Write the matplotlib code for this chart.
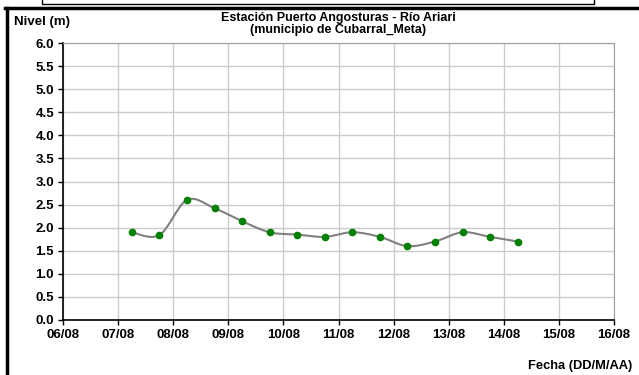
import numpy as np
import pandas as pd
import matplotlib
matplotlib.use("Agg")
import matplotlib.pyplot as plt
import matplotlib.dates as mdates
from matplotlib.lines import Line2D
from matplotlib.patches import Rectangle

plt.rcParams['font.family'] = ['Liberation Sans', 'DejaVu Sans']
plt.rcParams['font.weight'] = 'bold'

# lecturas (nivel del río, m)
fechas = ["2008-08-07 06:00", "2008-08-07 18:00", "2008-08-08 06:00", "2008-08-08 18:00",
          "2008-08-09 06:00", "2008-08-09 18:00", "2008-08-10 06:00", "2008-08-10 18:00",
          "2008-08-11 06:00", "2008-08-11 18:00", "2008-08-12 06:00", "2008-08-12 18:00",
          "2008-08-13 06:00", "2008-08-13 18:00", "2008-08-14 06:00"]
nivel = [1.9, 1.84, 2.6, 2.42, 2.14, 1.9, 1.85, 1.8, 1.9, 1.8, 1.6, 1.7, 1.9, 1.8, 1.7]

titulo = "Estación Puerto Angosturas - Río Ariari\n(municipio de Cubarral_Meta)"
y_ticks = np.arange(0, 6.01, 0.5)

x = mdates.date2num(pd.to_datetime(fechas))
y = np.array(nivel)


# smoothed line like excel (catmull-rom through the points)
def suave(px, py, n=20):
    px = np.concatenate([[px[0]], px, [px[-1]]])
    py = np.concatenate([[py[0]], py, [py[-1]]])
    xs, ys = [], []
    t = np.linspace(0, 1, n)
    for i in range(1, len(px) - 2):
        for arr, out in ((px, xs), (py, ys)):
            p0, p1, p2, p3 = arr[i - 1], arr[i], arr[i + 1], arr[i + 2]
            out.extend(0.5 * (2 * p1 + (-p0 + p2) * t + (2 * p0 - 5 * p1 + 4 * p2 - p3) * t ** 2
                              + (-p0 + 3 * p1 - 3 * p2 + p3) * t ** 3))
    return np.array(xs), np.array(ys)


fig = plt.figure(figsize=(6.39, 3.75), dpi=100)
ax = fig.add_axes([0.0986, 0.1467, 0.8624, 0.7386])

sx, sy = suave(x, y)
ax.plot(sx, sy, color='#808080', lw=1.5, zorder=3)
ax.plot(x, y, 'o', color='#008000', ms=4.5, zorder=4)

x0 = mdates.date2num(pd.Timestamp("2008-08-06"))
ax.set_xlim(x0, x0 + 10)
ax.set_ylim(0, 6)
ax.set_yticks(y_ticks)
ax.set_yticklabels([f"{v:.1f}" for v in y_ticks])
ax.xaxis.set_major_locator(mdates.DayLocator())
ax.xaxis.set_major_formatter(mdates.DateFormatter("%d/%m"))
ax.tick_params(labelsize=9.5, length=3.5, width=1, colors='black')
ax.tick_params(axis='y', pad=3)
ax.tick_params(axis='x', pad=3)
ax.grid(True, color='#cccccc', lw=1)
ax.set_axisbelow(True)
for s in ['top', 'right']:
    ax.spines[s].set_color('#a0a0a0')
for s in ['left', 'bottom']:
    ax.spines[s].set_linewidth(1.2)

fig.text(0.529, 0.968, titulo, ha='center', va='top', fontsize=9, weight='bold', linespacing=0.95)
fig.text(0.022, 0.94, "Nivel (m)", ha='left', va='center', fontsize=9.5, weight='bold')
fig.text(0.99, 0.025, "Fecha (DD/M/AA)", ha='right', va='center', fontsize=9.3, weight='bold')

# marco de la hoja
fig.add_artist(Rectangle((0.066, 0.99), 0.864, 0.03, transform=fig.transFigure,
                         fill=False, ec='black', lw=1))
fig.add_artist(Line2D([0.008, 1.0], [0.98, 0.98], transform=fig.transFigure, color='black', lw=2.5))
fig.add_artist(Line2D([0.011, 0.011], [0.0, 0.98], transform=fig.transFigure, color='black', lw=2.5))

fig.savefig("out.png", dpi=100)
